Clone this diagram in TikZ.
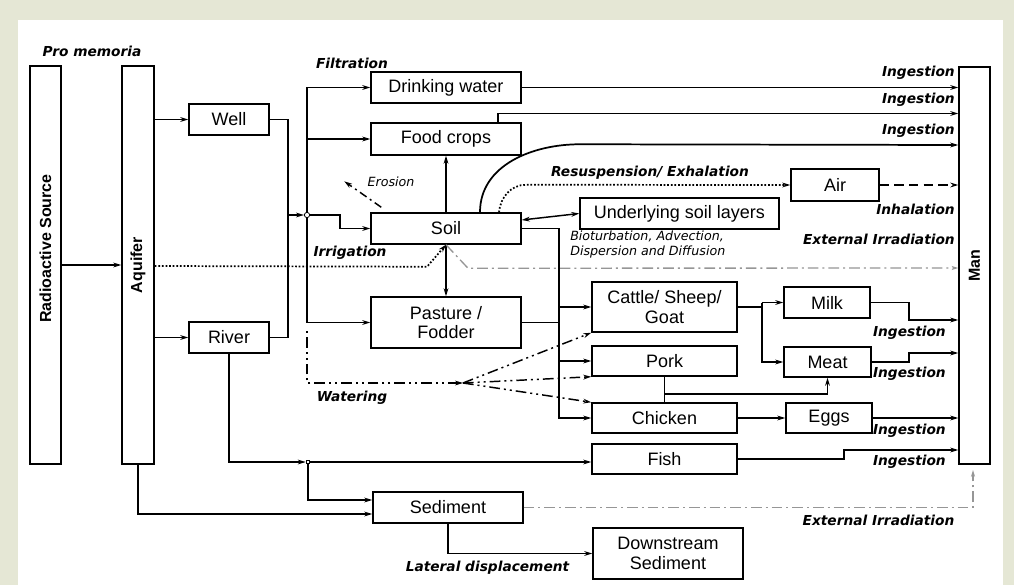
\documentclass[tikz,border=0pt]{standalone}
\usepackage{fontspec}
\setmainfont{Liberation Sans}
\newfontfamily\vfont{DejaVu Sans}[ItalicFont={DejaVu Sans Oblique},BoldFont={DejaVu Sans Bold},BoldItalicFont={DejaVu Sans Bold Oblique}]
\usetikzlibrary{arrows.meta,calc}
\definecolor{frame}{RGB}{229,231,213}
\definecolor{irr}{RGB}{150,150,150}

\tikzset{
  box/.style 2 args={draw, line width=1.1pt, inner sep=0pt,
    minimum width={#1*0.75pt}, minimum height={#2*0.75pt},
    align=center, font=\fontsize{13.5}{14.5}\selectfont},
  tall/.style={font=\fontsize{12}{14}\selectfont\bfseries, rotate=90, inner sep=0pt},
  lab/.style={font=\vfont\fontsize{10.3}{12}\selectfont\bfseries\itshape, inner sep=0pt},
  note/.style={font=\vfont\fontsize{9.5}{11.3}\selectfont\itshape, inner sep=0pt, align=left},
  tip/.style={-{Stealth[length=6pt,width=3.6pt]}},
  flow/.style={line width=1.3pt, tip},
  link/.style={line width=1.3pt},
  dotflow/.style={line width=1.3pt, dash pattern=on 1.3pt off 1.4pt, tip},
  dashflow/.style={line width=1.3pt, dash pattern=on 7pt off 4pt, tip},
  irrflow/.style={line width=1pt, draw=irr, dash pattern=on 8pt off 3pt on 1.5pt off 3pt,
    -{Stealth[length=5pt,width=3pt]}},
  erode/.style={line width=1.1pt, dash pattern=on 6pt off 3pt on 1.5pt off 3pt, tip},
  water/.style={line width=1.1pt, dash pattern=on 8pt off 3pt on 1.5pt off 3pt on 1.5pt off 3pt},
  junc/.style={draw, fill=white, line width=0.6pt, inner sep=1.4pt},
}

\begin{document}
\begin{tikzpicture}[x=0.75pt,y=-0.75pt]
% frame and sheet
\fill[frame] (0,0) rectangle (1014,585);
\fill[white] (18,20) rectangle (1003,585);
\useasboundingbox (0,0) rectangle (1014,585);

% tall boxes
\node[box={31}{398}] (src) at (45.5,265) {};
\node[tall] (srct) at (45.5,248.5) {Radioactive Source};
\node[box={32}{398}] (aqu) at (138,265) {};
\node[tall] (aqut) at (138,265) {Aquifer};
\node[box={31}{397}] (man) at (974.5,265.5) {};
\node[tall] (mant) at (974.5,265.5) {Man};

% compartments
\node[box={80}{31}] (well) at (229,119.5) {Well};
\node[box={80}{31}] (river) at (229,337.5) {River};
\node[box={150}{31}] (drink) at (446,87.5) {Drinking water};
\node[box={150}{32}] (food) at (446,139) {Food crops};
\node[box={150}{31}] (soil) at (446,228.5) {Soil};
\node[box={150}{51}] (past) at (446,322.5) {Pasture /\\Fodder};
\node[box={199}{31}] (under) at (679.5,213.5) {Underlying soil layers};
\node[box={88}{32}] (air) at (835,185) {Air};
\node[box={145}{50}] (cattle) at (664.5,307) {Cattle/ Sheep/\\Goat};
\node[box={145}{30}] (pork) at (664.5,361) {Pork};
\node[box={145}{30}] (chick) at (664.5,418) {Chicken};
\node[box={145}{30}] (fish) at (664.5,459) {Fish};
\node[box={86}{31}] (milk) at (827,302.5) {Milk};
\node[box={87}{30}] (meat) at (827.5,362) {Meat};
\node[box={86}{30}] (eggs) at (829,418) {Eggs};
\node[box={150}{31}] (sed) at (448,507.5) {Sediment};
\node[box={150}{51}] (down) at (668,553.5) {Downstream\\Sediment};

% junctions
\node[junc, circle] (J) at (307,215) {};
\node[junc, rectangle] (J2) at (308,462) {};
\coordinate (W) at (463,383);

% source and aquifer
\draw[flow] (src.east |- aqu) -- (aqu.west);
\draw[flow] (aqu.east |- well) -- (well.west);
\draw[flow] (aqu.east |- river) -- (river.west);
\draw[link] (river.east) -| ($(well.east)+(18,0)$);
\draw[flow] (well.east) -- ++(18,0) |- (J);

% distribution from the well / river junction
\draw[flow] (J) |- (drink.west);
\draw[flow] (J) |- (food.west);
\draw[flow] (J) |- (past.west);
\draw[flow] (J) -- ($(J)+(33,0)$) |- (soil.west);

% soil transfers
\draw[flow] (soil.north) -- (food.south);
\draw[flow] (soil.south) -- (past.north);
\draw[line width=1.1pt, {Stealth[length=6pt,width=3.6pt]}-{Stealth[length=6pt,width=3.6pt]}]
  ($(soil.east)+(0,-8.5)$) -- (under.west);
\draw[erode] ($(soil.north west)+(11,-5)$) -- ++(-37,-26);

% ingestion and inhalation pathways
\draw[flow] (drink.east) -- (drink.east -| man.west);
\draw[flow] ($(food.north)+(52,0)$) |- (man.west |- 0,113.5);
\draw[flow] ($(soil.north)+(34,0)$) to[out=90,in=180] ($(soil.north)+(134,-68)$)
  -- (man.west |- 0,145);
\draw[dotflow] ($(soil.north)+(53,0)$) to[out=85,in=180] ($(soil.north)+(80,-27.5)$)
  -- (air.west);
\draw[dashflow] (air.east) -- (air.east -| man.west);

% irrigation and external irradiation from soil
\draw[dotflow] (aqu.east |- 0,266) -- ($(soil.south)+(-19,22)$) -- (soil.south);
\draw[irrflow] (soil.south) -- ($(soil.south)+(22,23.5)$) -- (man.west |- 0,268);

% feed to livestock
\coordinate (b2) at ($(soil.east)+(37,0)$);
\draw[flow] (soil.east) -- (b2) |- (chick.west);
\draw[flow] (b2) |- (cattle.west);
\draw[flow] (b2) |- (pork.west);
\draw[link] (past.east) -- (past.east -| b2);

% watering
\draw[water, {Stealth[length=6pt,width=3.6pt]}-] (W) -- (J |- W) -- ($(J)+(0,115)$);
\draw[water, tip] (W) -- (cattle.south west);
\draw[water, tip] (W) -- (pork.south west);
\draw[water, tip] (W) -- (chick.north west);

% animal products
\coordinate (b3) at ($(cattle.east)+(24,0)$);
\draw[link] (cattle.east) -- (b3);
\draw[flow] (b3 |- milk.west) -- (milk.west);
\draw[flow] (b3 |- milk.west) -- (b3 |- meat.west) -- (meat.west);
\draw[link] (pork.south) -- (chick.north);
\draw[flow] ($(pork.south)+(0,17)$) -| (meat.south);
\draw[flow] (chick.east) -- (eggs.west);
\draw[flow] (milk.east) -- ++(38,0) |- (man.west |- 0,320);
\draw[flow] (meat.east) -- ++(37,0) |- (man.west |- 0,353);
\draw[flow] (eggs.east) -- (eggs.east -| man.west);
\draw[flow] (fish.east) -- ++(106,0) |- (man.west |- 0,450);

% river and sediment
\draw[flow] (river.south) |- (J2);
\draw[flow] (J2) -- (J2 -| fish.west);
\draw[flow] (J2) |- ($(sed.west)+(0,-7.5)$);
\draw[flow] (aqu.south) |- ($(sed.west)+(0,6.5)$);
\draw[flow] (sed.south) |- (down.west);
\draw[irrflow, shorten >=4pt] (sed.east) -| ($(man.south)+(-1.5,0)$);

% labels
\node[lab] (lpm) at (92,51) {Pro memoria};
\node[lab] (lfil) at (352,63) {Filtration};
\node[note] (lero) at (391,182) {Erosion};
\node[lab] (lirr) at (350,253) {Irrigation};
\node[lab] (lres) at (650,173) {Resuspension/ Exhalation};
\node[note, anchor=north west] (lbio) at (570,231) {Bioturbation, Advection,\\Dispersion and Diffusion};
\node[lab, anchor=east] (li1) at (955,73) {Ingestion};
\node[lab, anchor=east] (li2) at (955,100) {Ingestion};
\node[lab, anchor=east] (li3) at (955,131) {Ingestion};
\node[lab, anchor=east] (linh) at (955,209) {Inhalation};
\node[lab, anchor=east] (lext) at (955,239) {External Irradiation};
\node[lab, anchor=east] (li4) at (946,333) {Ingestion};
\node[lab, anchor=east] (li5) at (946,374) {Ingestion};
\node[lab, anchor=east] (li6) at (946,431) {Ingestion};
\node[lab, anchor=east] (li7) at (946,462) {Ingestion};
\node[lab] (lwat) at (352,398) {Watering};
\node[lab] (llat) at (487.5,568) {Lateral displacement};
\node[lab] (lext2) at (878.5,520) {External Irradiation};
\end{tikzpicture}
\end{document}
